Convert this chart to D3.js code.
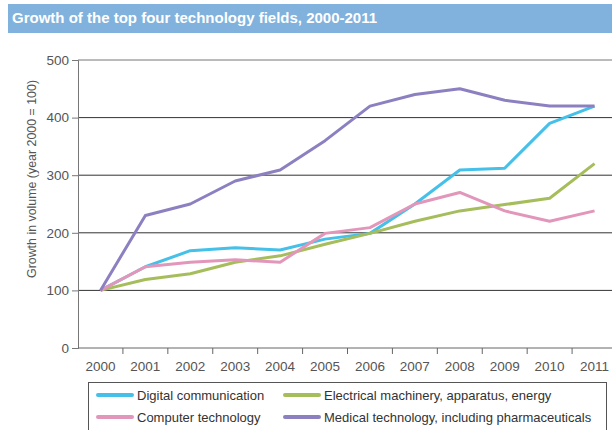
<!DOCTYPE html>
<html>
<head>
<meta charset="utf-8">
<script src="https://cdn.jsdelivr.net/npm/d3@7"></script>
<style>
  body { margin: 0; background: #fff; }
  svg { display: block; font-family: "Liberation Sans", Arial, sans-serif; }
</style>
</head>
<body>
<div id="chart"></div>
<script>
// data
const years = ['2000', '2001', '2002', '2003', '2004', '2005', '2006', '2007', '2008', '2009', '2010', '2011'];
const digital    = [100, 141, 169, 174, 170, 189, 199, 250, 309, 312, 390, 420];
const computer   = [100, 141, 149, 153, 149, 199, 209, 250, 270, 238, 220, 238];
const electrical = [100, 119, 129, 149, 160, 180, 199, 220, 238, 249, 260, 320];
const medical    = [100, 230, 250, 290, 309, 360, 420, 440, 450, 430, 420, 420];
const yTicks = [0, 100, 200, 300, 400, 500];

const series = [
  { name: 'Digital communication', values: digital, color: '#45c0e8' },
  { name: 'Electrical machinery, apparatus, energy', values: electrical, color: '#a6bd5c' },
  { name: 'Computer technology', values: computer, color: '#e296ba' },
  { name: 'Medical technology, including pharmaceuticals', values: medical, color: '#8d80c1' }
];

const width = 612, height = 430;

const svg = d3.select('#chart')
  .append('svg')
  .attr('width', width)
  .attr('height', height);

// title bar
svg.append('rect')
  .attr('x', 8).attr('y', 4)
  .attr('width', width - 8).attr('height', 29)
  .attr('fill', '#80b2dd');

svg.append('text')
  .attr('x', 12).attr('y', 23)
  .attr('fill', '#fff')
  .attr('font-size', 15)
  .attr('font-weight', 'bold')
  .text('Growth of the top four technology fields, 2000-2011');

// scales
let xScale = d3.scaleBand()
  .domain(years)
  .range([78, 617]);

let yScale = d3.scaleLinear()
  .domain([0, 500])
  .range([348, 60]);

const axisLeftX = 78, axisRightX = 612;

//gridlines
svg.append('g')
  .selectAll('line')
  .data(yTicks.filter(d => d > 0))
  .join('line')
  .attr('x1', axisLeftX).attr('x2', axisRightX)
  .attr('y1', d => yScale(d)).attr('y2', d => yScale(d))
  .attr('stroke', d => d === 500 ? '#777' : '#333')
  .attr('stroke-width', 1);

//y axis
const yAxis = svg.append('g')
  .attr('transform', `translate(${axisLeftX},0)`)
  .call(d3.axisLeft(yScale).tickValues(yTicks).tickSize(6).tickPadding(3));
yAxis.select('.domain').attr('stroke', '#777');
yAxis.selectAll('.tick line').attr('stroke', '#777');
yAxis.selectAll('text')
  .attr('font-size', 13.5)
  .attr('fill', '#555')
  .attr('font-family', '"Liberation Sans", Arial, sans-serif');

//x axis line
svg.append('line')
  .attr('x1', axisLeftX).attr('x2', axisRightX)
  .attr('y1', yScale(0)).attr('y2', yScale(0))
  .attr('stroke', '#666');

// x ticks sit between the years
svg.append('g')
  .selectAll('line')
  .data(years.slice(1))
  .join('line')
  .attr('x1', d => xScale(d)).attr('x2', d => xScale(d))
  .attr('y1', yScale(0)).attr('y2', yScale(0) + 6)
  .attr('stroke', '#666');

svg.append('g')
  .selectAll('text')
  .data(years)
  .join('text')
  .attr('x', d => xScale(d) + xScale.bandwidth() / 2)
  .attr('y', 371)
  .attr('text-anchor', 'middle')
  .attr('font-size', 13.5)
  .attr('fill', '#555')
  .text(d => d);

//y axis title
svg.append('text')
  .attr('text-anchor', 'middle')
  .attr('transform', 'translate(36,179) rotate(-90)')
  .attr('font-size', 12.4)
  .attr('fill', '#555')
  .text('Growth in volume (year 2000 = 100)');

// lines
const line = d3.line()
  .x((d, i) => xScale(years[i]) + xScale.bandwidth() / 2)
  .y(d => yScale(d));

svg.append('g')
  .selectAll('path')
  .data(series)
  .join('path')
  .attr('d', d => line(d.values))
  .attr('fill', 'none')
  .attr('stroke', d => d.color)
  .attr('stroke-width', 3)
  .attr('stroke-linejoin', 'round');

// legend
svg.append('rect')
  .attr('x', 88.5).attr('y', 382.5)
  .attr('width', 518).attr('height', 60)
  .attr('fill', '#fff')
  .attr('stroke', '#555');

const legendPos = [
  { x: 98, y: 395 }, { x: 285, y: 395 },
  { x: 98, y: 417 }, { x: 285, y: 417 }
];

const legend = svg.append('g')
  .selectAll('g')
  .data(series)
  .join('g')
  .attr('transform', (d, i) => `translate(${legendPos[i].x},${legendPos[i].y})`);

legend.append('line')
  .attr('x1', 0).attr('x2', 34)
  .attr('stroke', d => d.color)
  .attr('stroke-width', 4)
  .attr('stroke-linecap', 'round');

legend.append('text')
  .attr('x', 39)
  .attr('dy', '0.35em')
  .attr('font-size', 13)
  .attr('fill', '#333')
  .text(d => d.name);
</script>
</body>
</html>
